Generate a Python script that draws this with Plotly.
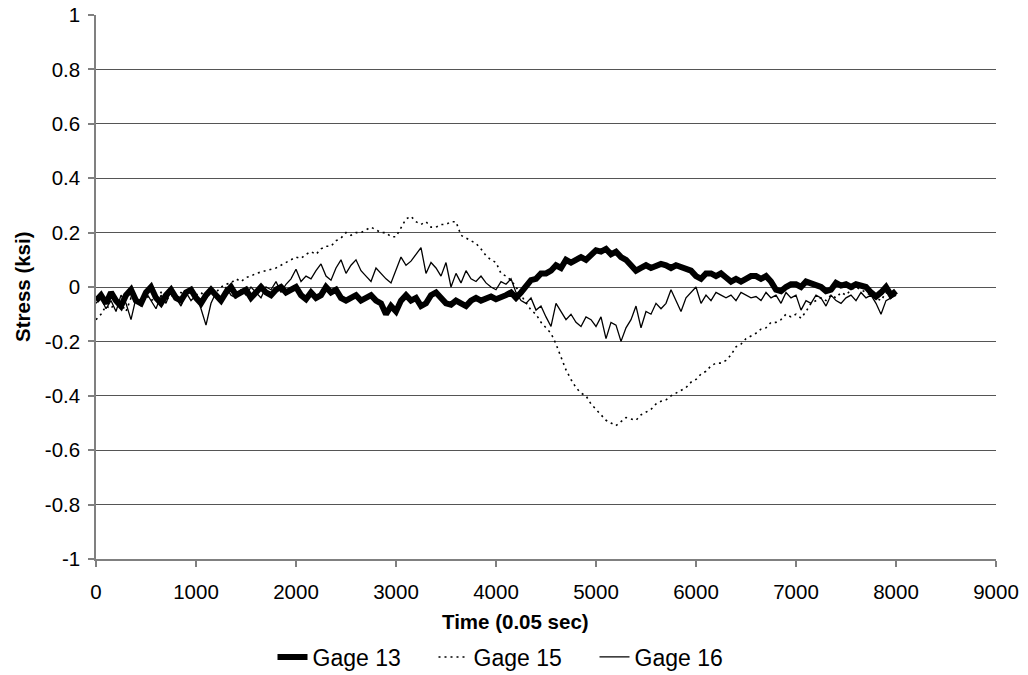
import plotly.graph_objects as go

# Time axis (0.05 sec units), sampled every 50
time = list(range(0, 8001, 50))

gage13 = [
    -0.05, -0.03, -0.06, -0.02, -0.05, -0.07, -0.03, -0.01, -0.05, -0.06, -0.02, 0.0, -0.04, -0.06, -0.03, -0.01, -0.04, -0.05, -0.02, -0.01,
    -0.04, -0.06, -0.03, -0.01, -0.03, -0.05, -0.02, 0.0, -0.03, -0.02, -0.01, -0.04, -0.02, 0.0, -0.02, -0.03, -0.01, 0.0, -0.02, -0.01,
    0.0, -0.03, -0.045, -0.02, -0.04, -0.03, 0.0, -0.02, -0.01, -0.04, -0.05, -0.04, -0.03, -0.05, -0.04, -0.03, -0.05, -0.06, -0.1, -0.07,
    -0.09, -0.05, -0.03, -0.05, -0.04, -0.07, -0.06, -0.03, -0.02, -0.04, -0.06, -0.065, -0.05, -0.06, -0.07, -0.05, -0.04, -0.05, -0.04, -0.035,
    -0.045, -0.04, -0.03, -0.02, -0.04, -0.02, 0.0, 0.025, 0.03, 0.05, 0.05, 0.06, 0.08, 0.07, 0.1, 0.09, 0.1, 0.11, 0.1, 0.12,
    0.135, 0.13, 0.14, 0.12, 0.13, 0.11, 0.1, 0.08, 0.06, 0.07, 0.08, 0.07, 0.08, 0.085, 0.08, 0.07, 0.08, 0.075, 0.07, 0.06,
    0.04, 0.03, 0.05, 0.05, 0.04, 0.05, 0.035, 0.02, 0.03, 0.02, 0.03, 0.04, 0.04, 0.03, 0.04, 0.02, -0.01, -0.015, 0.0, 0.01,
    0.01, 0.0, 0.02, 0.015, 0.01, 0.0, -0.015, -0.01, 0.015, 0.005, 0.01, 0.0, 0.01, 0.005, 0.0, -0.02, -0.035, -0.02, 0.0, -0.03,
    -0.015,
]

gage15 = [
    -0.12, -0.1, -0.07, -0.08, -0.05, -0.06, -0.09, -0.04, -0.06, -0.05, -0.03, -0.05, -0.04, -0.02, -0.05, -0.03, -0.04, -0.02, -0.03, -0.02,
    -0.03, -0.02, -0.04, -0.01, -0.02, 0.0, 0.01, 0.015, 0.03, 0.02, 0.035, 0.04, 0.05, 0.055, 0.06, 0.065, 0.07, 0.08, 0.09, 0.1,
    0.11, 0.105, 0.12, 0.13, 0.12, 0.14, 0.15, 0.15, 0.17, 0.18, 0.2, 0.19, 0.2, 0.2, 0.21, 0.22, 0.21, 0.2, 0.2, 0.185,
    0.185, 0.22, 0.25, 0.26, 0.24, 0.23, 0.24, 0.22, 0.22, 0.23, 0.23, 0.24, 0.24, 0.19, 0.18, 0.17, 0.16, 0.14, 0.115, 0.1,
    0.09, 0.05, 0.04, 0.025, 0.0, -0.03, -0.06, -0.085, -0.1, -0.13, -0.15, -0.17, -0.21, -0.26, -0.305, -0.34, -0.37, -0.39, -0.4, -0.43,
    -0.45, -0.47, -0.49, -0.5, -0.51, -0.495, -0.48, -0.485, -0.49, -0.47, -0.46, -0.45, -0.43, -0.42, -0.415, -0.4, -0.39, -0.38, -0.37, -0.35,
    -0.34, -0.32, -0.31, -0.29, -0.28, -0.28, -0.27, -0.25, -0.22, -0.21, -0.19, -0.18, -0.17, -0.155, -0.15, -0.13, -0.13, -0.12, -0.1, -0.11,
    -0.1, -0.115, -0.09, -0.06, -0.05, -0.04, -0.05, -0.03, -0.04, -0.02, -0.03, -0.01, 0.0, -0.01, -0.02, -0.03, -0.04, -0.05, -0.02, -0.04,
    -0.03,
]

gage16 = [
    -0.06, -0.04, -0.08, -0.05, -0.09, -0.03, -0.06, -0.12, -0.04, -0.07, -0.02, -0.05, -0.08, -0.03, -0.06, -0.01, -0.04, -0.07, -0.02, -0.05,
    -0.03, -0.08, -0.14, -0.06, -0.02, -0.05, 0.0, -0.03, -0.04, -0.01, -0.03, 0.0, -0.02, -0.04, 0.0, -0.01, 0.02, -0.02, 0.01, 0.03,
    0.065, 0.02, 0.04, 0.03, 0.06, 0.085, 0.04, 0.025, 0.07, 0.1, 0.05, 0.08, 0.1, 0.06, 0.04, 0.02, 0.07, 0.05, 0.03, 0.015,
    0.06, 0.11, 0.08, 0.095, 0.12, 0.145, 0.05, 0.09, 0.07, 0.04, 0.09, 0.0, 0.05, 0.015, 0.06, 0.03, 0.02, 0.04, 0.015, 0.0,
    -0.01, 0.02, 0.01, 0.03, -0.02, -0.05, -0.06, -0.04, -0.085, -0.07, -0.11, -0.145, -0.06, -0.09, -0.12, -0.1, -0.13, -0.145, -0.11, -0.12,
    -0.145, -0.11, -0.19, -0.13, -0.14, -0.2, -0.15, -0.12, -0.07, -0.15, -0.09, -0.1, -0.06, -0.08, -0.06, -0.01, -0.05, -0.09, -0.04, -0.02,
    0.0, -0.06, -0.03, -0.05, -0.02, -0.03, -0.04, -0.03, -0.05, -0.02, -0.03, -0.04, -0.035, -0.05, -0.02, -0.04, -0.03, -0.06, -0.02, -0.04,
    -0.03, -0.085, -0.05, -0.06, -0.03, -0.04, -0.07, -0.03, -0.05, -0.06, -0.04, -0.03, -0.05, -0.02, -0.04, -0.03, -0.06, -0.1, -0.05, -0.04,
    -0.03,
]

series_names = ["Gage 13", "Gage 15", "Gage 16"]
x_ticks = list(range(0, 9001, 1000))
y_ticks = [-1, -0.8, -0.6, -0.4, -0.2, 0, 0.2, 0.4, 0.6, 0.8, 1]
y_ticktext = ["-1", "-0.8", "-0.6", "-0.4", "-0.2", "0", "0.2", "0.4", "0.6", "0.8", "1"]

FONT = "Liberation Sans, Arial, sans-serif"
FS = 20.5
LEG_FS = 23

fig = go.Figure()
fig.add_trace(go.Scatter(x=time, y=gage13, mode="lines", name=series_names[0],
                         line=dict(color="black", width=6)))
fig.add_trace(go.Scatter(x=time, y=gage15, mode="lines", name=series_names[1],
                         line=dict(color="black", width=1.6, dash="2px,4px")))
fig.add_trace(go.Scatter(x=time, y=gage16, mode="lines", name=series_names[2],
                         line=dict(color="black", width=1.3)))

fig.update_layout(
    width=1028, height=675,
    margin=dict(l=96, r=32, t=15, b=116, autoexpand=False),
    paper_bgcolor="white", plot_bgcolor="white",
    font=dict(family=FONT, size=FS, color="black"),
    showlegend=True,
    legend=dict(orientation="h", xref="container", yref="container",
                x=0.5, xanchor="center", y=(675 - 657) / 675, yanchor="middle",
                font=dict(size=LEG_FS), tracegroupgap=0,
                entrywidth=116, entrywidthmode="pixels",
                bgcolor="rgba(0,0,0,0)"),
    annotations=[
        dict(text="<b>Time (0.05 sec)</b>", xref="paper", yref="paper",
             x=(515 - 96) / 900, y=(559 - 621) / 544, xanchor="center", yanchor="middle",
             showarrow=False, font=dict(size=FS)),
        dict(text="<b>Stress (ksi)</b>", xref="paper", yref="paper",
             x=(22 - 96) / 900, y=0.5, xanchor="center", yanchor="middle", textangle=-90,
             showarrow=False, font=dict(size=FS)),
    ],
)

fig.update_xaxes(range=[0, 9000], tickvals=x_ticks, ticktext=[str(v) for v in x_ticks],
                 showgrid=False, zeroline=False, showline=True, linecolor="#808080", linewidth=1.5,
                 ticks="outside", ticklen=6, tickcolor="#808080", tickwidth=1.5,
                 ticklabelstandoff=8, tickfont=dict(size=FS), automargin=False)
fig.update_yaxes(range=[-1, 1], tickvals=y_ticks, ticktext=y_ticktext,
                 showgrid=True, gridcolor="#555555", gridwidth=1.2,
                 zeroline=False, showline=True, linecolor="#808080", linewidth=1.5,
                 ticks="outside", ticklen=6, tickcolor="#808080", tickwidth=1.5,
                 ticklabelstandoff=4, tickfont=dict(size=FS), automargin=False)

fig.write_html("out.html")
